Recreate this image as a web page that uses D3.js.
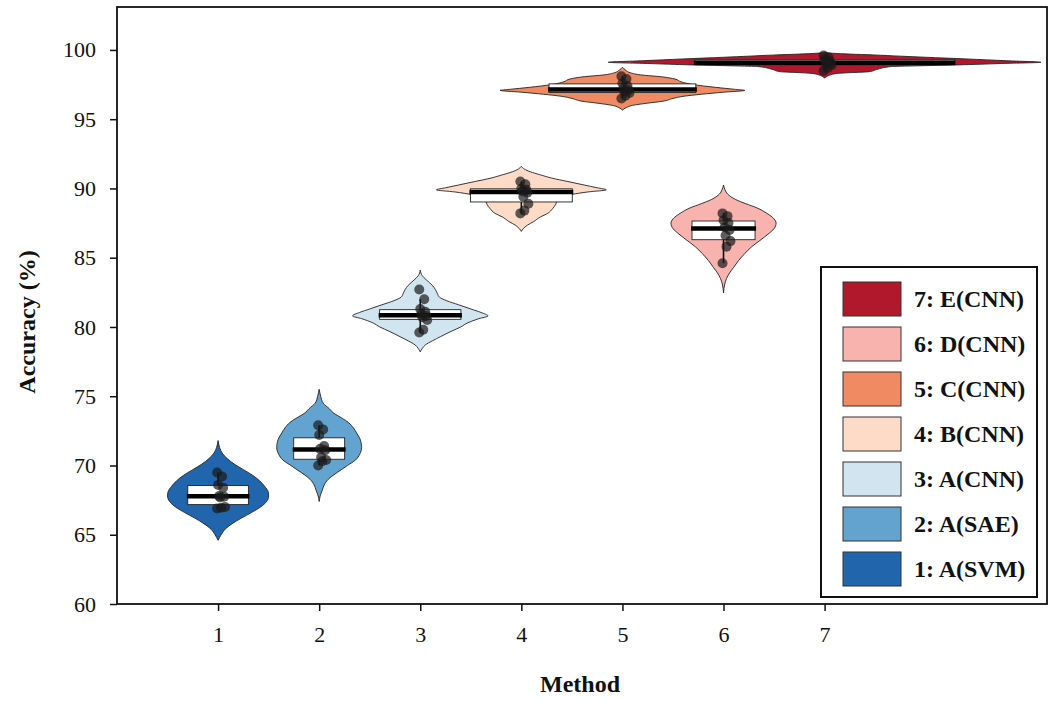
<!DOCTYPE html>
<html>
<head>
<meta charset="utf-8">
<script src="https://cdn.jsdelivr.net/npm/d3@7"></script>
<style>
  body { margin: 0; background: #fff; }
  text { font-family: "Liberation Serif", "Times New Roman", serif; }
</style>
</head>
<body>
<div id="chart"></div>
<script>
// Methods and their legend names
const methods = [1, 2, 3, 4, 5, 6, 7];
const methodNames = ["A(SVM)", "A(SAE)", "A(CNN)", "B(CNN)", "C(CNN)", "D(CNN)", "E(CNN)"];
const fills = ["#2166ac", "#62a3cf", "#d1e5f0", "#fddbc7", "#ef8a62", "#f9b3ae", "#b2182b"];
const yTicks = [60, 65, 70, 75, 80, 85, 90, 95, 100];

// Accuracy of the individual runs, per method (%)
const runs = [
  [69.5, 69.2, 68.6, 68.4, 67.8, 67.75, 67.7, 67.0, 66.95, 66.9],
  [72.9, 72.6, 72.2, 71.4, 71.2, 71.1, 70.6, 70.4, 70.3, 70.0],
  [82.7, 82.0, 81.3, 81.1, 80.9, 80.8, 80.7, 80.5, 79.8, 79.6],
  [90.5, 90.3, 90.0, 89.9, 89.8, 89.7, 89.4, 88.9, 88.4, 88.2],
  [98.1, 97.9, 97.6, 97.4, 97.2, 97.1, 97.0, 96.9, 96.7, 96.5],
  [88.2, 88.0, 87.7, 87.5, 87.2, 87.0, 86.6, 86.2, 85.8, 84.6],
  [99.6, 99.45, 99.3, 99.2, 99.1, 99.05, 99.0, 98.9, 98.7, 98.5]
];

// Violin outlines: [accuracy, density] (density in hundredths of a method step, half width)
const outlines = [
  [[71.8,0],[71.3,1.5],[70.9,4],[70.5,9],[70.1,16],[69.7,25],[69.3,34],[68.9,41],[68.5,46],[68.1,49.5],[67.8,50],[67.4,48],[67.0,42],[66.6,33],[66.2,23],[65.8,14],[65.4,7],[65.0,3],[64.6,0]],
  [[75.5,0],[75.0,1.5],[74.5,4],[74.1,10],[73.8,14],[73.4,23],[73.1,29],[72.7,34],[72.35,37],[71.9,40.5],[71.3,42],[70.8,40],[70.4,36],[70.0,28],[69.7,22],[69.3,14],[69.0,9],[68.6,5],[68.2,3],[67.8,1],[67.4,0]],
  [[84.1,0],[83.7,2],[83.4,6],[83.0,12],[82.7,15],[82.4,17],[82.15,19],[81.9,26],[81.6,38],[81.3,50],[81.05,60],[80.8,67],[80.6,58],[80.3,47],[80.0,40],[79.7,31],[79.3,20],[79.0,12],[78.7,5],[78.45,2],[78.2,0]],
  [[91.6,0],[91.4,3],[91.2,9],[91.0,18],[90.75,30],[90.5,46],[90.25,62],[90.05,75],[89.9,84],[89.75,66],[89.55,49],[89.3,40],[89.05,35],[88.85,34],[88.55,31],[88.2,26],[87.95,19],[87.6,12],[87.35,6],[87.1,2],[86.9,0]],
  [[98.75,0],[98.55,3],[98.35,8],[98.2,18],[98.05,40],[97.9,52],[97.7,58],[97.5,70],[97.3,92],[97.15,112],[97.08,121],[96.95,100],[96.8,78],[96.65,60],[96.5,50],[96.3,40],[96.15,24],[96.0,10],[95.85,4],[95.65,0]],
  [[90.25,0],[89.9,1.5],[89.6,4],[89.2,12],[88.9,22],[88.6,33],[88.2,43],[87.8,50],[87.5,52],[87.1,50],[86.7,44],[86.3,37],[85.8,28],[85.3,21],[84.8,15],[84.3,10],[83.9,6],[83.5,3],[83.1,1.2],[82.45,0]],
  [[99.83,0],[99.76,8],[99.7,25],[99.64,48],[99.55,75],[99.47,100],[99.35,140],[99.22,180],[99.11,214],[99.02,175],[98.92,131],[98.85,90],[98.8,66],[98.6,52],[98.43,44],[98.35,22],[98.3,12],[98.15,4],[97.96,0]]
];

const width = 1056, height = 701;
const margin = { top: 7, right: 9, bottom: 97, left: 117 };

const svg = d3.select("#chart").append("svg")
    .attr("width", width)
    .attr("height", height);

const x = d3.scaleLinear()
    .domain([0, 9.2])
    .range([margin.left, width - margin.right]);

const y = d3.scaleLinear()
    .domain([60, 103.1])
    .range([height - margin.bottom, margin.top]);

// density -> pixels, one method step = 100
const w = d3.scaleLinear().domain([0, 100]).range([0, x(1) - x(0)]);

// axes
const yAxis = svg.append("g")
    .attr("transform", "translate(" + margin.left + ",0)")
    .call(d3.axisLeft(y).tickValues(yTicks).tickSize(7).tickPadding(14));

const xAxis = svg.append("g")
    .attr("transform", "translate(0," + (height - margin.bottom) + ")")
    .call(d3.axisBottom(x).tickValues(methods).tickSize(7).tickPadding(15));

[yAxis, xAxis].forEach(a => {
  a.select(".domain").remove();
  a.selectAll(".tick line").attr("stroke", "#111").attr("stroke-width", 1.5);
  a.selectAll(".tick text")
    .attr("fill", "#111")
    .style("font-family", "'Liberation Serif', 'Times New Roman', serif")
    .style("font-size", "22px");
});

// violins
methods.forEach((m, i) => {
  const g = svg.append("g");
  const outline = outlines[i];
  const cx = x(m);

  const area = d3.area()
      .y(d => y(d[0]))
      .x0(d => cx - w(d[1]))
      .x1(d => cx + w(d[1]))
      .curve(d3.curveMonotoneY);

  g.append("path")
    .datum(outline)
    .attr("d", area)
    .attr("fill", fills[i])
    .attr("stroke", "#222")
    .attr("stroke-width", 0.9);

  const sorted = runs[i].slice().sort(d3.ascending);
  const q1 = d3.quantileSorted(sorted, 0.25),
        med = d3.quantileSorted(sorted, 0.5),
        q3 = d3.quantileSorted(sorted, 0.75),
        iqr = q3 - q1;
  const lo = d3.min(sorted.filter(v => v >= q1 - 1.5 * iqr));
  const hi = d3.max(sorted.filter(v => v <= q3 + 1.5 * iqr));
  const bw = 0.6 * w(d3.max(outline, d => d[1]));

  g.append("line")
    .attr("x1", cx).attr("x2", cx)
    .attr("y1", y(lo)).attr("y2", y(hi))
    .attr("stroke", "#111")
    .attr("stroke-width", 1.6);

  g.append("rect")
    .attr("x", cx - bw)
    .attr("y", y(q3))
    .attr("width", 2 * bw)
    .attr("height", y(q1) - y(q3))
    .attr("fill", "#fff")
    .attr("stroke", "#222")
    .attr("stroke-width", 0.9);

  g.append("line")
    .attr("x1", cx - bw - 1).attr("x2", cx + bw + 1)
    .attr("y1", y(med)).attr("y2", y(med))
    .attr("stroke", "#000")
    .attr("stroke-width", 4.5);

  g.selectAll("circle")
    .data(runs[i])
    .enter().append("circle")
      .attr("cx", (d, j) => cx + ((j * 5) % 9) - 1)
      .attr("cy", d => y(d))
      .attr("r", 5)
      .attr("fill", "#1a1a1a")
      .attr("fill-opacity", 0.7);
});

// frame
svg.append("rect")
  .attr("x", margin.left)
  .attr("y", margin.top)
  .attr("width", width - margin.left - margin.right)
  .attr("height", height - margin.top - margin.bottom)
  .attr("fill", "none")
  .attr("stroke", "#111")
  .attr("stroke-width", 1.8);

// axis labels
svg.append("text")
  .attr("transform", "translate(35,322) rotate(-90)")
  .attr("text-anchor", "middle")
  .style("font-weight", "bold")
  .style("font-size", "24px")
  .attr("fill", "#111")
  .text("Accuracy (%)");

svg.append("text")
  .attr("x", 580)
  .attr("y", 692)
  .attr("text-anchor", "middle")
  .style("font-weight", "bold")
  .style("font-size", "24px")
  .attr("fill", "#111")
  .text("Method");

// legend
const legend = svg.append("g").attr("transform", "translate(821,267)");
legend.append("rect")
  .attr("width", 216)
  .attr("height", 330)
  .attr("fill", "#fff")
  .attr("stroke", "#111")
  .attr("stroke-width", 2);

const order = methods.slice().reverse();
const ly = d3.scaleBand().domain(order).range([8, 323]);

order.forEach(m => {
  legend.append("rect")
    .attr("x", 22)
    .attr("y", ly(m) + 7)
    .attr("width", 58)
    .attr("height", 34)
    .attr("fill", fills[m - 1])
    .attr("stroke", "#333")
    .attr("stroke-width", 1);
  legend.append("text")
    .attr("x", 93)
    .attr("y", ly(m) + 24)
    .attr("dy", "0.35em")
    .style("font-weight", "bold")
    .style("font-size", "24px")
    .attr("fill", "#111")
    .text(m + ": " + methodNames[m - 1]);
});
</script>
</body>
</html>
